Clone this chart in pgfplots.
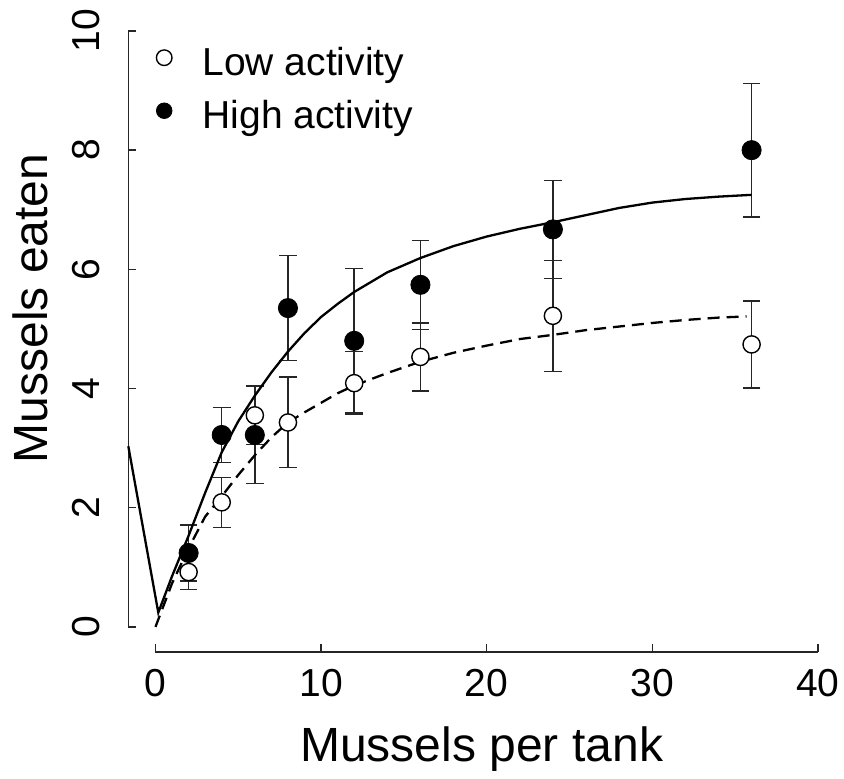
\documentclass[border=0pt]{standalone}
\usepackage{fontspec}
\setmainfont{Liberation Sans}
\usepackage{pgfplots}
\usepackage{pgfplotstable}
\pgfplotsset{compat=1.18}

\pgfplotstableread{
x  y    e
2  0.92 0.29
4  2.09 0.42
6  3.55 0.49
8  3.43 0.76
12 4.09 0.53
16 4.53 0.57
24 5.22 0.93
36 4.74 0.73
}\lowdata

\pgfplotstableread{
x  y    e
2  1.24 0.47
4  3.22 0.46
6  3.22 0.81
8  5.35 0.88
12 4.80 1.21
16 5.74 0.745
24 6.67 0.82
36 8.00 1.12
}\highdata

\pgfplotstableread{
x     y
-1.64 3.03
0.17  0.24
1     0.85
2     1.53
3     2.25
4     2.93
5     3.45
6     3.88
7     4.27
8     4.62
9     4.93
10    5.20
11    5.42
12    5.62
14    5.95
16    6.19
18    6.39
20    6.55
22    6.68
24    6.79
26    6.91
28    7.03
30    7.12
32    7.18
34    7.22
36    7.25
}\highfit

\pgfplotstableread{
x     y
0     0.00
1     0.73
2     1.32
3     1.85
4     2.19
5     2.55
6     2.88
7     3.18
8     3.43
9     3.60
10    3.76
11    3.92
12    4.05
14    4.26
16    4.45
18    4.60
20    4.72
22    4.83
24    4.90
26    4.98
28    5.04
30    5.10
32    5.15
34    5.19
35.7  5.21
}\lowfit

\begin{document}
\begin{tikzpicture}
\begin{axis}[
  scale only axis, width=344.8pt, height=310.5pt,
  xmin=-1.64, xmax=40, ymin=-0.42, ymax=10,
  axis x line*=bottom, axis y line*=left,
  axis line style={draw=none},
  clip=false,
  xtick={0,10,20,30,40}, ytick={0,2,4,6,8,10},
  tick align=inside, major tick length=3.8pt,
  every tick/.style={black!85, line width=0.7pt},
  /pgf/number format/assume math mode=true,
  ticklabel style={font=\fontsize{19.5}{20}\selectfont, inner sep=0pt},
  yticklabel style={rotate=90, anchor=south},
  xticklabel style={anchor=north},
  xticklabel shift=8.5pt, yticklabel shift=14pt,
  xlabel={Mussels per tank}, ylabel={Mussels eaten},
  every axis x label/.style={at={(axis description cs:0.5125,-0.177)}, anchor=base, font=\fontsize{24}{28}\selectfont},
  every axis y label/.style={at={(axis description cs:-0.1178,0.553)}, anchor=base, rotate=90, font=\fontsize{24}{28}\selectfont},
  legend style={draw=none, fill=none, at={(axis cs:-0.04,9.87)}, anchor=north west,
    inner sep=0pt, outer sep=0pt, row sep=7.5pt,
    font=\fontsize{19.5}{20}\selectfont,
    nodes={inner sep=0pt, text height=18.5pt, text depth=0.5pt}},
  legend cell align=left,
  legend image code/.code={%
    \draw[only marks, mark size=3.9pt] plot coordinates {(0pt,0pt)};
    \path (-4.5pt,0pt) (19pt,0pt);},
]
\draw[black!85, line width=0.7pt] (axis cs:0,-0.42) -- (axis cs:40,-0.42);
\draw[black!85, line width=0.7pt] (axis cs:-1.64,0) -- (axis cs:-1.64,10);
\path (axis cs:-9.39,-2.366) rectangle (axis cs:41.58,10.52);

\addplot[forget plot, only marks, mark=none, black,
  error bars/.cd, y dir=both, y explicit,
  error bar style={line width=0.7pt, black!85},
  error mark options={black!85, line width=0.7pt, mark size=4.4pt, rotate=90}]
  table[x=x, y=y, y error=e] {\lowdata};
\addplot[only marks, mark=*, mark size=4.3pt,
  mark options={fill=white, draw=black, line width=0.7pt}]
  table[x=x, y=y] {\lowdata};
\addlegendentry{Low activity}

\addplot[forget plot, only marks, mark=none, black,
  error bars/.cd, y dir=both, y explicit,
  error bar style={line width=0.7pt, black!85},
  error mark options={black!85, line width=0.7pt, mark size=4.4pt, rotate=90}]
  table[x=x, y=y, y error=e] {\highdata};
\addplot[only marks, mark=*, mark size=4.8pt,
  mark options={fill=black, draw=black}]
  table[x=x, y=y] {\highdata};
\addlegendentry{High activity}

\addplot[forget plot, black, line width=1.15pt, mark=none] table[x=x, y=y] {\highfit};
\addplot[forget plot, black, line width=1.15pt, mark=none, dash pattern=on 6pt off 3.5pt] table[x=x, y=y] {\lowfit};
\end{axis}
\end{tikzpicture}
\end{document}
